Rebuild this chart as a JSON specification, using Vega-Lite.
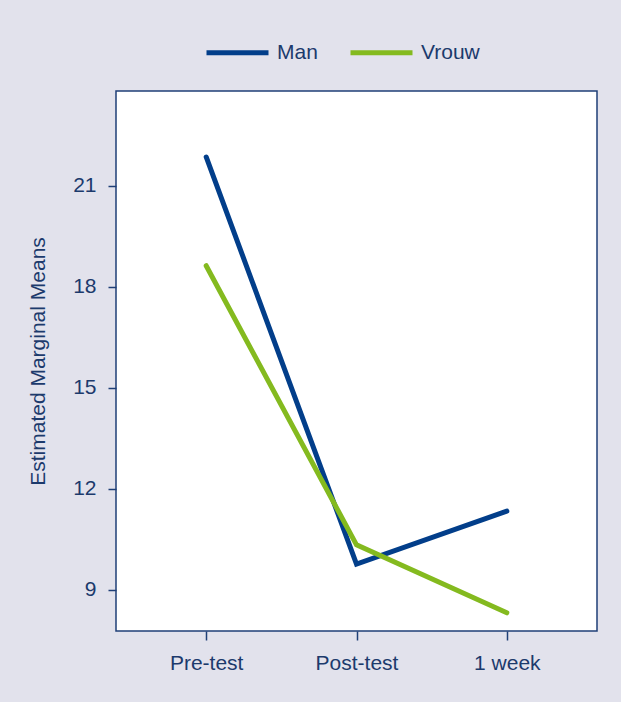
{
  "$schema": "https://vega.github.io/schema/vega-lite/v6.json",
  "autosize": "none",
  "width": 481,
  "height": 540,
  "padding": {"left": 116, "top": 91, "right": 24, "bottom": 71},
  "background": "#e2e2ec",
  "data": {
    "values": [
      {"time": "Pre-test", "sex": "Man", "mean": 21.86},
      {"time": "Post-test", "sex": "Man", "mean": 9.77},
      {"time": "1 week", "sex": "Man", "mean": 11.34},
      {"time": "Pre-test", "sex": "Vrouw", "mean": 18.63},
      {"time": "Post-test", "sex": "Vrouw", "mean": 10.34},
      {"time": "1 week", "sex": "Vrouw", "mean": 8.32}
    ]
  },
  "mark": {"type": "line", "strokeWidth": 5, "strokeCap": "round", "strokeJoin": "miter"},
  "encoding": {
    "x": {
      "field": "time",
      "type": "ordinal",
      "sort": ["Pre-test", "Post-test", "1 week"],
      "scale": {"type": "point", "padding": 0.6},
      "axis": {
        "title": null,
        "labelAngle": 0,
        "domain": false,
        "tickSize": 9,
        "tickWidth": 1.5,
        "tickColor": "#1f3f77",
        "labelPadding": 12,
        "labelFontSize": 21,
        "labelColor": "#1c3a6c",
        "labelFont": "Liberation Sans"
      }
    },
    "y": {
      "field": "mean",
      "type": "quantitative",
      "scale": {"domain": [7.78, 23.82], "nice": false, "zero": false},
      "axis": {
        "title": "Estimated Marginal Means",
        "titleFontSize": 21,
        "titleFontWeight": "normal",
        "titleColor": "#1c3a6c",
        "titleFont": "Liberation Sans",
        "titlePadding": 24,
        "values": [9, 12, 15, 18, 21],
        "grid": false,
        "domain": false,
        "tickSize": 8,
        "tickWidth": 1.5,
        "tickColor": "#1f3f77",
        "labelPadding": 12,
        "labelFontSize": 21,
        "labelColor": "#1c3a6c",
        "labelFont": "Liberation Sans"
      }
    },
    "color": {
      "field": "sex",
      "type": "nominal",
      "scale": {"domain": ["Man", "Vrouw"], "range": ["#023e8a", "#84ba1f"]},
      "legend": {
        "title": null,
        "orient": "none",
        "direction": "horizontal",
        "legendX": 88,
        "legendY": -72,
        "symbolType": "stroke",
        "symbolSize": 3844,
        "symbolStrokeWidth": 5,
        "labelFontSize": 21,
        "labelColor": "#1c3a6c",
        "labelFont": "Liberation Sans",
        "labelOffset": 6,
        "columnPadding": 22
      }
    }
  },
  "config": {
    "view": {"fill": "#ffffff", "stroke": "#1f3f77", "strokeWidth": 1.5}
  }
}
